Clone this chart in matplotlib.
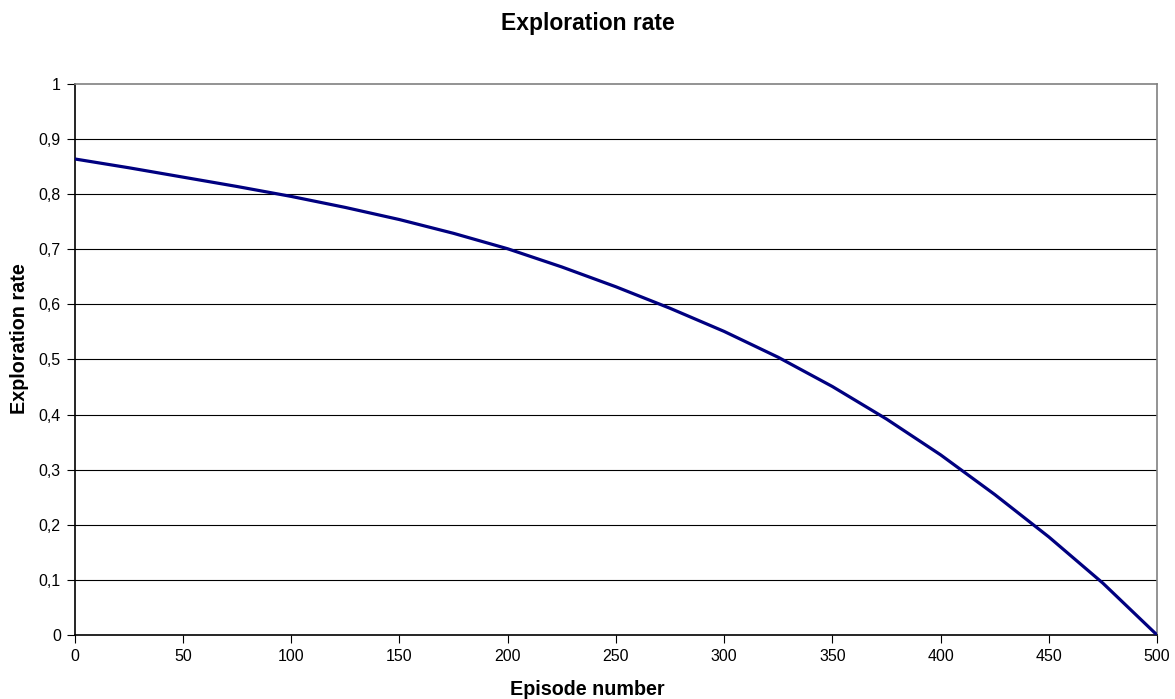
import matplotlib
matplotlib.use("Agg")
import matplotlib.pyplot as plt
from matplotlib.ticker import FuncFormatter

# values, every 25 episodes
episodes = [0, 25, 50, 75, 100, 125, 150, 175, 200, 225, 250,
            275, 300, 325, 350, 375, 400, 425, 450, 475, 500]
exploration = [0.864, 0.848, 0.831, 0.814, 0.796, 0.776, 0.754, 0.729, 0.701,
               0.668, 0.632, 0.593, 0.551, 0.504, 0.451, 0.392, 0.327, 0.255,
               0.178, 0.094, 0.0]

x_ticks = [0, 50, 100, 150, 200, 250, 300, 350, 400, 450, 500]
y_ticks = [0, 0.1, 0.2, 0.3, 0.4, 0.5, 0.6, 0.7, 0.8, 0.9, 1.0]

plt.rcParams["font.family"] = ["Liberation Sans", "DejaVu Sans"]

fig = plt.figure(figsize=(11.75, 6.99), dpi=100)
ax = fig.add_axes([0.0636, 0.0916, 0.9211, 0.7882])

ax.plot(episodes, exploration, color="#000080", linewidth=2.3,
        solid_joinstyle="round", zorder=3)

ax.set_xlim(0, 500)
ax.set_ylim(0, 1)
ax.set_xticks(x_ticks)
ax.set_yticks(y_ticks)
ax.yaxis.set_major_formatter(FuncFormatter(lambda v, p: ("%g" % round(v, 1)).replace(".", ",")))
ax.tick_params(direction="out", length=6, width=0.8, color="#000000",
               labelsize=11.5, pad=4)

# horizontal grid lines like the spreadsheet chart
for v in y_ticks[1:-1]:
    ax.axhline(v, color="#000000", linewidth=0.8, zorder=1)

for side in ["left", "bottom"]:
    ax.spines[side].set_color("#000000")
    ax.spines[side].set_linewidth(1.2)
for side in ["top", "right"]:
    ax.spines[side].set_color("#808080")
    ax.spines[side].set_linewidth(1.2)

fig.text(0.5, 0.967, "Exploration rate", ha="center", va="center",
         fontsize=16.5, fontweight="bold")
fig.text(0.5, 0.013, "Episode number", ha="center", va="center",
         fontsize=14.2, fontweight="bold")
fig.text(0.017, 0.5155, "Exploration rate", ha="center", va="center",
         rotation=90, fontsize=14.2, fontweight="bold")

fig.savefig("out.png", dpi=100)
